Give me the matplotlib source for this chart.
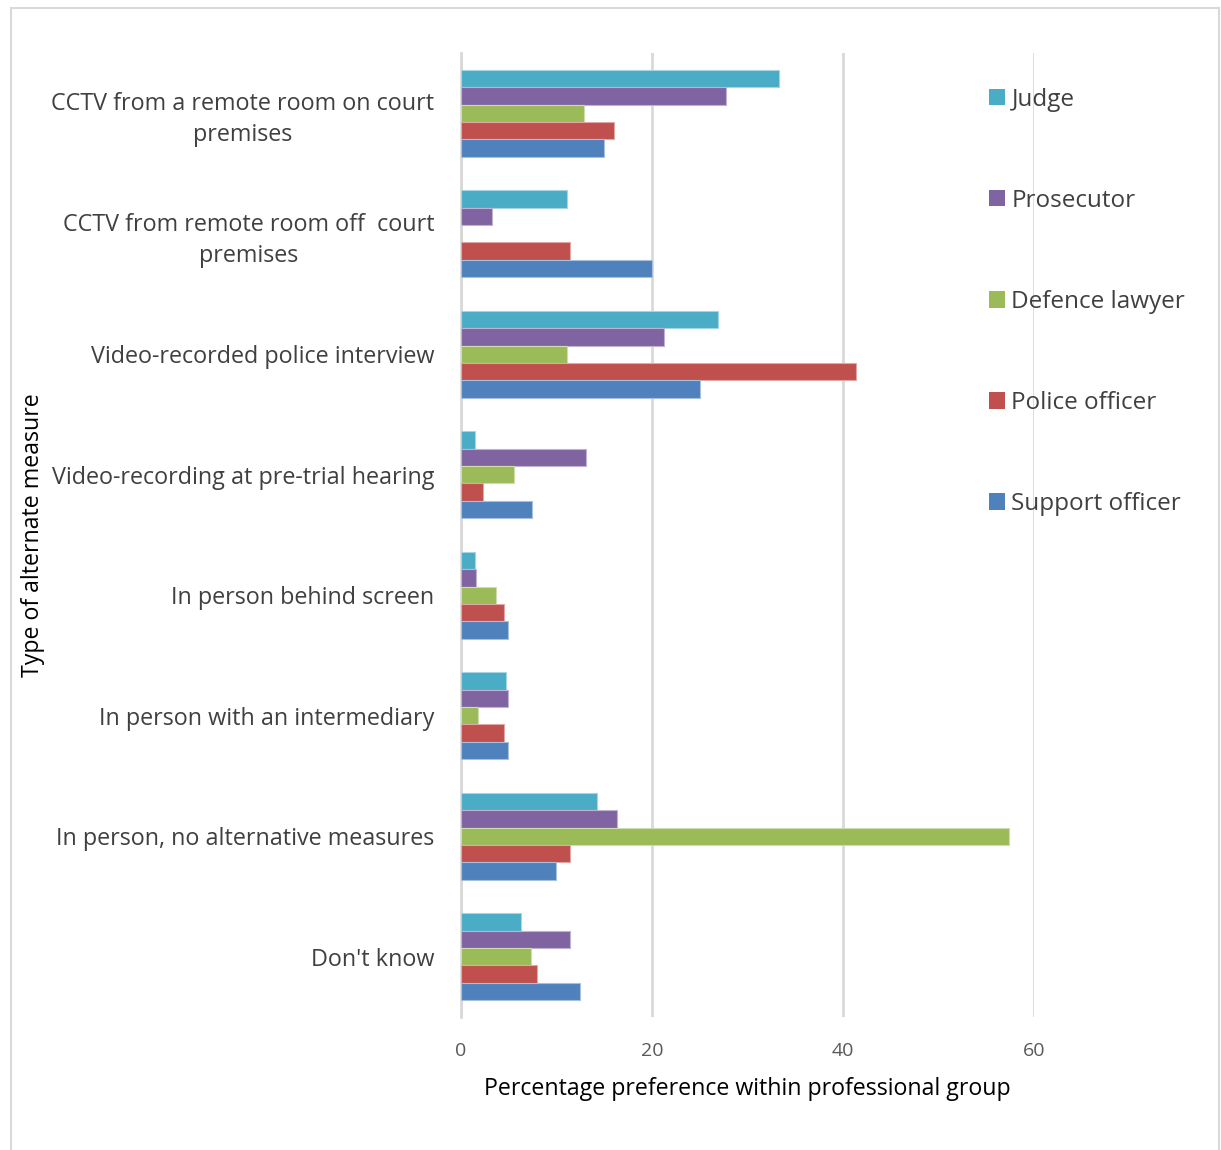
import matplotlib
matplotlib.use("Agg")
import matplotlib.pyplot as plt
from matplotlib.patches import Rectangle, Patch
import numpy as np

plt.rcParams['font.family'] = ['Open Sans', 'DejaVu Sans']

categories = ['CCTV from a remote room on court\npremises',
              'CCTV from remote room off  court\npremises',
              'Video-recorded police interview',
              'Video-recording at pre-trial hearing',
              'In person behind screen',
              'In person with an intermediary',
              'In person, no alternative measures',
              "Don't know"]

groups = ['Judge', 'Prosecutor', 'Defence lawyer', 'Police officer', 'Support officer']
colors = ['#4BACC6', '#8064A2', '#9BBB59', '#C0504D', '#4F81BD']
edges = ['#A5D5E2', '#BFB1D0', '#CDDDAC', '#DFA7A6', '#A7C0DE']

judge = [33.3, 11.1, 26.9, 1.5, 1.5, 4.7, 14.2, 6.3]
prosecutor = [27.8, 3.2, 21.3, 13.1, 1.6, 4.9, 16.3, 11.4]
defence = [12.9, 0.0, 11.1, 5.5, 3.7, 1.8, 57.4, 7.3]
police = [16.0, 11.4, 41.4, 2.3, 4.5, 4.5, 11.4, 8.0]
support = [15.0, 20.0, 25.0, 7.4, 4.9, 4.9, 9.9, 12.5]
series = [judge, prosecutor, defence, police, support]

fig = plt.figure(figsize=(12.21, 11.5), dpi=100)
ax = fig.add_axes([461/1221, 133/1150, (1034-461)/1221, (1017-53)/1150])

# outer frame
fig.patches.append(Rectangle((11/1221, -0.01), (1219-11)/1221, 1.01 - 7.5/1150,
                             transform=fig.transFigure, fill=False,
                             edgecolor='#D9D9D9', linewidth=1.5))

y = np.arange(len(categories))
bh = 0.145
for i, (vals, c, e) in enumerate(zip(series, colors, edges)):
    ax.barh(y + (i - 2) * bh, vals, height=bh, color=c, edgecolor=e,
            linewidth=0.8, label=groups[i], zorder=3)

ax.set_ylim(len(categories) - 0.5, -0.5)
ax.set_xlim(0, 60)
ax.set_xticks([0, 20, 40, 60])
ax.set_xticklabels(['0', '20', '40', '60'], color='#595959', fontsize=14)
ax.set_yticks(y)
ax.set_yticklabels(categories, fontsize=16.8, color='#404040', ha='right',
                   multialignment='center', linespacing=1.38)
ax.tick_params(axis='y', length=0, pad=19)
ax.tick_params(axis='x', length=0, pad=18)
ax.grid(axis='x', color='#D9D9D9', linewidth=2, zorder=0)
for s in ['top', 'right', 'bottom']:
    ax.spines[s].set_visible(False)
ax.spines['left'].set_color('#D9D9D9')
ax.spines['left'].set_linewidth(2)

ax.set_xlabel('Percentage preference within professional group', fontsize=16.7,
              color='black', labelpad=12)
fig.text(33/1221, 1 - 535/1150, 'Type of alternate measure', rotation=90,
         fontsize=16.7, color='black', ha='center', va='center')

handles = [Patch(facecolor=c, edgecolor='none') for c in colors]
leg = ax.legend(handles, groups, loc='upper left',
                bbox_to_anchor=(967/1221, 1 - 66/1150),
                bbox_transform=fig.transFigure, frameon=False,
                fontsize=17.5, labelspacing=3.17, handlelength=0.65,
                handleheight=0.65, handletextpad=0.28, labelcolor='#404040')

fig.savefig('out.png', dpi=100, facecolor='white')
